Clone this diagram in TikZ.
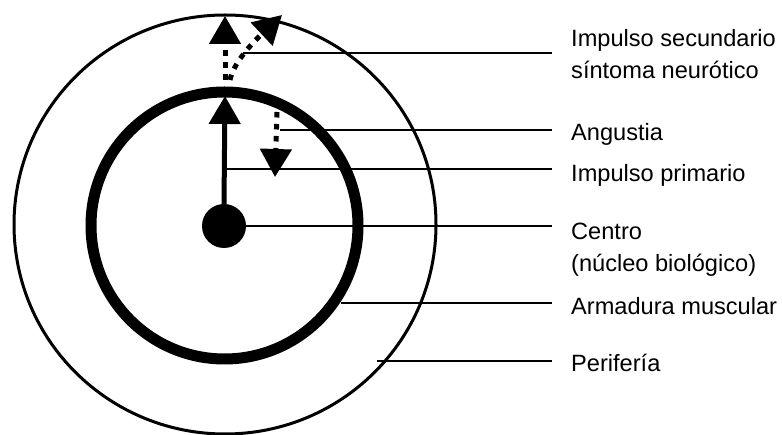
\documentclass[tikz,border=0pt]{standalone}
\usepackage{fontspec}
\setmainfont{Liberation Sans}
\usetikzlibrary{arrows.meta,shapes.geometric}
\begin{document}
\begin{tikzpicture}[x=1pt,y=-1pt,
  bigtip/.style={-{Triangle[width=31pt,length=28pt]}},
  dotline/.style={line width=5pt,dash pattern=on 5.5pt off 6.5pt},
  leader/.style={line width=1.6pt},
  lab/.style={anchor=base west,inner sep=0pt,font=\fontsize{23.6}{28}\selectfont}]
\useasboundingbox (0,0) rectangle (782,435);
% rings
\node[ellipse,draw,line width=3pt,minimum width=422pt,minimum height=419pt,inner sep=0pt] (outer) at (225,224.5) {};
\node[ellipse,draw,line width=11pt,minimum width=267pt,minimum height=267pt,inner sep=0pt] (inner) at (224.5,225.5) {};
\node[circle,fill,minimum size=44pt,inner sep=0pt] (core) at (224,226) {};
% arrows
\coordinate (primtip) at (225,96);
\coordinate (sec0) at (225,80);
\coordinate (sectip) at (225,16);
\coordinate (cur0) at (230,80);
\coordinate (curtip) at (282,15);
\coordinate (ang0) at (277,112);
\coordinate (angtip) at (275,177);
\draw[bigtip,line width=5pt] (core.north) -- (primtip);
\draw[bigtip,dotline] (sec0) -- (sectip);
\draw[bigtip,dotline] (cur0) .. controls (233,65) and (248,47) .. (curtip);
\draw[bigtip,dotline] (ang0) -- (angtip);
% labels
\node[lab] (l1a) at (571,47) {Impulso secundario};
\node[lab] (l1b) at (571,79) {síntoma neurótico};
\node[lab] (l2) at (571,141) {Angustia};
\node[lab] (l3) at (571,182) {Impulso primario};
\node[lab] (l4a) at (571,240) {Centro};
\node[lab] (l4b) at (571,272) {(núcleo biológico)};
\node[lab] (l5) at (571,315) {Armadura muscular};
\node[lab] (l6) at (571,372) {Perifería};
% leader lines
\coordinate (s1) at (243,53);  \coordinate (e1) at (552,53);
\coordinate (s2) at (280,130); \coordinate (e2) at (552,130);
\coordinate (s3) at (225,169); \coordinate (e3) at (552,169);
\coordinate (e4) at (552,226);
\coordinate (s5) at (341,303); \coordinate (e5) at (552,303);
\coordinate (s6) at (377,361); \coordinate (e6) at (552,361);
\draw[leader] (s1) -- (e1);
\draw[leader] (s2) -- (e2);
\draw[leader] (s3) -- (e3);
\draw[leader] (core.east) -- (e4);
\draw[leader] (s5) -- (e5);
\draw[leader] (s6) -- (e6);
\end{tikzpicture}
\end{document}
